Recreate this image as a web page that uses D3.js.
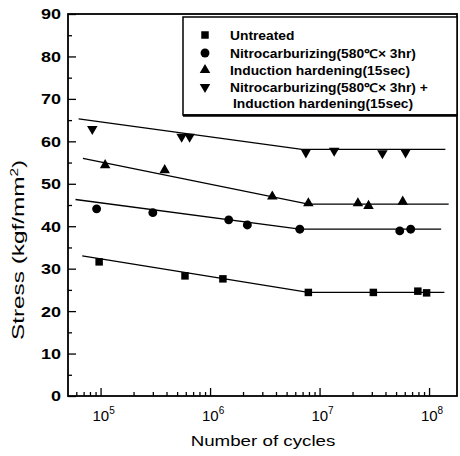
<!DOCTYPE html>
<html>
<head>
<meta charset="utf-8">
<script src="https://cdn.jsdelivr.net/npm/d3@7"></script>
<style>
body { margin: 0; background: #fff; }
svg { display: block; font-family: "Liberation Sans", Arial, sans-serif; font-weight: bold; }
</style>
</head>
<body>
<script>
// measured points (cycles, stress kgf/mm2)
var untreatedN = [9.7e4, 5.9e5, 1.31e6, 7.9e6, 3.1e7, 7.9e7, 9.5e7];
var untreatedS = [31.6, 28.3, 27.6, 24.4, 24.4, 24.7, 24.3];
var nitroN = [9.2e4, 3.0e5, 1.48e6, 2.19e6, 6.6e6, 5.4e7, 6.8e7];
var nitroS = [44.1, 43.2, 41.5, 40.3, 39.3, 38.9, 39.3];
var inductionN = [1.1e5, 3.85e5, 3.7e6, 7.9e6, 2.24e7, 2.8e7, 5.75e7];
var inductionS = [54.4, 53.2, 47.0, 45.4, 45.4, 44.8, 45.8];
var bothN = [8.4e4, 5.5e5, 6.5e5, 7.5e6, 1.36e7, 3.75e7, 6.1e7];
var bothS = [62.9, 61.1, 61.1, 57.4, 57.8, 57.2, 57.4];

// fitted S-N lines (start, knee, end)
var fitUntreatedN = [6.8e4, 7.9e6, 1.38e8];
var fitUntreatedS = [33.0, 24.4, 24.4];
var fitNitroN = [5.9e4, 6.6e6, 1.29e8];
var fitNitroS = [46.3, 39.3, 39.3];
var fitInductionN = [6.9e4, 7.9e6, 1.51e8];
var fitInductionS = [56.0, 45.2, 45.2];
var fitBothN = [6.3e4, 6.9e6, 1.41e8];
var fitBothS = [65.3, 58.1, 58.1];

var legendLabels = ["Untreated",
                    "Nitrocarburizing(580\u2103\u00d7 3hr)",
                    "Induction hardening(15sec)",
                    "Nitrocarburizing(580\u2103\u00d7 3hr) +"];
var legendExtra = "Induction hardening(15sec)";

var yMajor = [0, 10, 20, 30, 40, 50, 60, 70, 80, 90];
var yMinor = [5, 15, 25, 35, 45, 55, 65, 75, 85];
var xMajor = [1e5, 1e6, 1e7, 1e8];
var xExp = ["5", "6", "7", "8"];

var screen = {width: 460, height: 456};
var margin = {top: 14, right: 3, bottom: 60, left: 68};

var x = d3.scaleLog()
          .domain([5.04e4, 1.8e8])
          .range([margin.left, screen.width - margin.right]);
var y = d3.scaleLinear()
          .domain([0, 90])
          .range([screen.height - margin.bottom, margin.top]);

var xMinor = [];
[1e4, 1e5, 1e6, 1e7, 1e8].forEach(function(dec) {
  for (var k = 2; k <= 9; k++) {
    var v = dec * k;
    if (v > x.domain()[0] && v < x.domain()[1]) xMinor.push(v);
  }
});

var svg = d3.select("body")
            .append("svg")
            .attr("width", screen.width)
            .attr("height", screen.height);

var bottom = screen.height - margin.bottom;

// ticks (inward)
function cleanAxis(g) {
  g.select(".domain").remove();
  g.selectAll(".tick line").attr("stroke", "#000").attr("stroke-width", 1.3);
}
svg.append("g").attr("transform", "translate(0," + bottom + ")")
   .call(d3.axisBottom(x).tickValues(xMinor).tickSize(-4).tickFormat(""))
   .call(cleanAxis);
svg.append("g").attr("transform", "translate(0," + bottom + ")")
   .call(d3.axisBottom(x).tickValues(xMajor).tickSize(-8).tickFormat(""))
   .call(cleanAxis);
svg.append("g").attr("transform", "translate(" + margin.left + ",0)")
   .call(d3.axisLeft(y).tickValues(yMinor).tickSize(-4).tickFormat(""))
   .call(cleanAxis);
svg.append("g").attr("transform", "translate(" + margin.left + ",0)")
   .call(d3.axisLeft(y).tickValues(yMajor).tickSize(-8).tickFormat(""))
   .call(cleanAxis);

// frame
svg.append("rect")
   .attr("x", margin.left)
   .attr("y", margin.top)
   .attr("width", screen.width - margin.right - margin.left)
   .attr("height", bottom - margin.top)
   .attr("fill", "none")
   .attr("stroke", "#000")
   .attr("stroke-width", 1.8);

// y tick labels
svg.selectAll(".ylab")
   .data(yMajor)
   .enter()
   .append("text")
   .attr("class", "ylab")
   .attr("transform", function(d) { return "translate(61," + y(d) + ") scale(1.2,1)"; })
   .attr("dy", "0.36em")
   .attr("text-anchor", "end")
   .attr("font-size", 15)
   .text(function(d) { return d; });

// x tick labels 10^n
var xl = svg.selectAll(".xlab")
            .data(xMajor)
            .enter()
            .append("text")
            .attr("class", "xlab")
            .attr("x", function(d) { return x(d) + 3; })
            .attr("y", 421)
            .attr("text-anchor", "middle")
            .attr("font-size", 15)
            .attr("font-weight", "normal");
xl.append("tspan").text("10");
xl.append("tspan").attr("dy", -7).attr("font-size", 10).text(function(d, i) { return xExp[i]; });

// axis titles
svg.append("text")
   .attr("transform", "translate(263,446) scale(1.25,1)")
   .attr("text-anchor", "middle")
   .attr("font-size", 15)
   .attr("font-weight", "normal")
   .text("Number of cycles");

var yt = svg.append("text")
            .attr("transform", "translate(24,250) rotate(-90) scale(1.52,1)")
            .attr("text-anchor", "middle")
            .attr("font-size", 16)
            .attr("font-weight", "normal");
yt.append("tspan").text("Stress (kgf/mm");
yt.append("tspan").attr("dy", -6).attr("font-size", 10).text("2");
yt.append("tspan").attr("dy", 6).text(")");

// fitted lines
var line = d3.line()
             .x(function(d) { return x(d[0]); })
             .y(function(d) { return y(d[1]); });

var fits = [[fitUntreatedN, fitUntreatedS], [fitNitroN, fitNitroS],
            [fitInductionN, fitInductionS], [fitBothN, fitBothS]];
svg.append("g")
   .selectAll("path")
   .data(fits)
   .enter()
   .append("path")
   .attr("d", function(d) { return line(d3.zip(d[0], d[1])); })
   .attr("fill", "none")
   .attr("stroke", "#000")
   .attr("stroke-width", 1.3);

// markers
var shapes = [
  {sym: d3.symbol().type(d3.symbolSquare).size(56), rot: 0},
  {sym: d3.symbol().type(d3.symbolCircle).size(62), rot: 0},
  {sym: d3.symbol().type(d3.symbolTriangle).size(48), rot: 0},
  {sym: d3.symbol().type(d3.symbolTriangle).size(48), rot: 180}
];
var series = [[untreatedN, untreatedS], [nitroN, nitroS],
              [inductionN, inductionS], [bothN, bothS]];

series.forEach(function(s, i) {
  svg.append("g")
     .selectAll("path")
     .data(d3.zip(s[0], s[1]))
     .enter()
     .append("path")
     .attr("d", shapes[i].sym())
     .attr("transform", function(d) {
       return "translate(" + x(d[0]) + "," + y(d[1]) + ") rotate(" + shapes[i].rot + ")";
     })
     .attr("fill", "#000");
});

// legend
var legend = svg.append("g");
legend.append("rect")
      .attr("x", 183)
      .attr("y", 17)
      .attr("width", screen.width - margin.right - 183)
      .attr("height", 98)
      .attr("fill", "#fff")
      .attr("stroke", "#000")
      .attr("stroke-width", 1.5);
legend.append("line")
      .attr("x1", 183).attr("x2", screen.width - margin.right)
      .attr("y1", 115.5).attr("y2", 115.5)
      .attr("stroke", "#000").attr("stroke-width", 2.5);

var rows = [35, 53, 70, 87];
legendLabels.forEach(function(lab, i) {
  legend.append("path")
        .attr("d", shapes[i].sym())
        .attr("transform", "translate(205," + rows[i] + ") rotate(" + shapes[i].rot + ")")
        .attr("fill", "#000");
  legend.append("text")
        .attr("transform", "translate(230," + (rows[i] + 4.5) + ") scale(1.15,1)")
        .attr("font-size", 12)
        .text(lab);
});
legend.append("text")
      .attr("transform", "translate(233,107.5) scale(1.15,1)")
      .attr("font-size", 12)
      .text(legendExtra);
</script>
</body>
</html>
